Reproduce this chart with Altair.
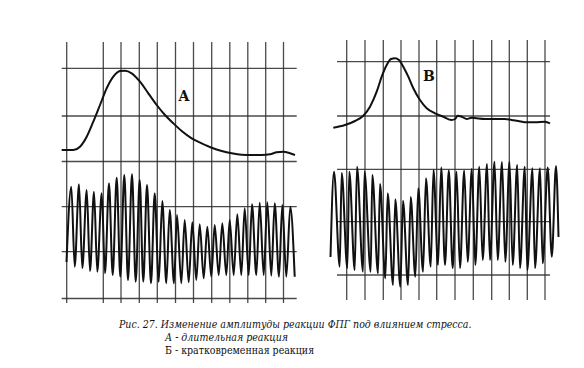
import altair as alt
import pandas as pd

# ---- grid (page coordinates) ----
left_grid_x = [66.7, 103.3, 121, 139.3, 157.3, 175.5, 193.5, 211.7, 229.8, 247.8, 265.7, 283.5]
left_grid_y = [68.3, 116, 161.5, 206.7, 251.7, 298.5]
right_grid_x = [346.7, 365, 383.3, 401, 419, 436.7, 455, 473.3, 491.7, 509.3, 527.3, 545]
right_grid_y = [61.7, 116, 169.3, 221.7, 275]
left_v_span = [42, 303]
left_h_span = [61.7, 296.7]
right_v_span = [40, 300]
right_h_span = [337, 550]

# ---- slow curves (upper traces) ----
left_curve_x = [61.7, 73.3, 80, 86.7, 93.3, 100, 106.7, 113.3, 120, 125, 131.7, 140, 148.3, 156.7, 165,
                173.3, 181.7, 191.7, 201.7, 211.7, 221.7, 231.7, 241.7, 251.7, 261.7, 270, 276.7, 283.3, 290, 295]
left_curve_y = [150, 150, 146.7, 136.7, 121.7, 105, 88.3, 76.7, 71, 70.7, 73.3, 81.7, 93.3, 105, 115,
                123.3, 131, 138.3, 143.3, 147.7, 151, 153.3, 154.7, 155, 155, 154.3, 152.3, 151.7, 153.3, 155]
right_curve_x = [333.3, 345, 355, 363.3, 370, 376.7, 381.7, 386.7, 391, 395, 399, 403.3, 408.3, 413.3, 420,
                 426.7, 435, 443.3, 451.7, 455, 457.7, 461.7, 466.7, 471.7, 476.7, 485, 495, 505, 511.7,
                 518.3, 525, 535, 545, 550]
right_curve_y = [127.7, 125, 121, 115.7, 106.7, 91.7, 76.7, 65, 59, 58.3, 60, 66.7, 76.7, 88.3, 100,
                 108.3, 113.3, 116.7, 120, 119, 115.7, 116.7, 119, 117.7, 118.3, 119, 119, 119, 120,
                 121, 122.3, 122.3, 121.7, 123.3]

# ---- pulse oscillations (lower traces): peaks and troughs ----
left_start = (66.5, 262)
left_end = (294.7, 276.7)
left_peak_x = [71.3, 79, 86.7, 94, 101.7, 109, 116.7, 124.3, 132, 139.7, 147, 154.7, 162.3, 169.7, 177,
               184.7, 192.3, 199.7, 207.3, 214.7, 222.3, 229.7, 237.3, 244.7, 252, 259.7, 267.3, 274.7, 282.3, 290.3]
left_peak_y = [186.7, 184.3, 190, 191.7, 193.3, 183.3, 177.7, 175, 174.3, 180, 185, 193.3, 201, 210, 215,
               220, 222.3, 224.3, 226.7, 225, 223.3, 220, 214.3, 208.3, 204.3, 202.7, 202.3, 203.3, 205, 206.7]
left_trough_x = [74.7, 82.3, 90, 97.3, 105, 112.7, 120.3, 128, 135.7, 143.3, 151, 158.7, 166.3, 174,
                 181.3, 188.7, 196.3, 203.7, 211.3, 218.7, 226.3, 233.7, 241.3, 248.7, 256.3, 263.7, 271.3, 279, 286.3]
left_trough_y = [266.7, 268.3, 271, 271.7, 273.3, 275, 276.7, 280, 281.7, 281.7, 283.3, 281.7, 283.3, 283.3,
                 283.3, 282.3, 280, 278.3, 276.7, 275, 275, 275, 275, 275, 275, 275, 275.7, 276.7, 276.7]

right_start = (330.5, 257)
right_end = (558.5, 237)
right_peak_x = [334, 341.7, 349.3, 357, 364.5, 372.3, 380, 387.7, 395.3, 403, 410.7, 418.3, 426, 433.5, 441.2,
                448.8, 456.5, 464.2, 471.8, 479.3, 487, 494.5, 502, 509.5, 517.2, 524.8, 532.5, 540, 547.7, 556]
right_peak_y = [171.7, 173, 171.7, 166.7, 171.7, 175, 184, 193.3, 199.3, 200.7, 197, 188.3, 178.3, 170, 167.5,
                170.5, 171.7, 170.5, 169, 166.7, 164, 161.7, 162, 161.7, 165, 166.7, 168.3, 168.3, 167.5, 166]
right_trough_x = [339.7, 347.3, 354.7, 363, 370.7, 378, 385.3, 393, 400.3, 408, 415.3, 423, 430.7, 438,
                  445, 452.7, 460, 467.7, 475.3, 482.7, 490, 497.7, 505.3, 512.7, 520, 527.3, 535, 542.7, 551.8]
right_trough_y = [266.7, 268.3, 270, 271.7, 271.7, 273.3, 278.3, 285, 286.7, 285, 276.7, 271.7, 266.7, 265,
                  265, 268.3, 268.3, 261.7, 265, 260, 260, 260, 261.7, 265, 268.3, 270, 268.3, 263.3, 256.7]

# ---- text ----
panel_labels = ["A", "B"]
panel_label_x = [184, 429]
panel_label_y = [97, 77]
caption_lines = [
    "Рис. 27. Изменение амплитуды реакции ФПГ под влиянием стресса.",
    "А - длительная реакция",
    "Б - кратковременная реакция",
]
caption_x = [119, 165, 165]
caption_y = [325, 338, 351]
caption_style = ["italic", "italic", "normal"]

SERIF = "DejaVu Serif"
CAPTION_FONT = "DejaVu Serif Condensed, DejaVu Serif"


def wave(start, px, py, tx, ty, end):
    pts = [start]
    for i in range(len(px)):
        pts.append((px[i], py[i]))
        if i < len(tx):
            pts.append((tx[i], ty[i]))
    pts.append(end)
    return pd.DataFrame(pts, columns=["x", "y"])


X = alt.Scale(domain=[8, 576], nice=False, zero=False)
Y = alt.Scale(domain=[8, 360], nice=False, zero=False, reverse=True)

vrules = pd.DataFrame(
    [{"x": x, "y": left_v_span[0], "y2": left_v_span[1]} for x in left_grid_x]
    + [{"x": x, "y": right_v_span[0], "y2": right_v_span[1]} for x in right_grid_x]
)
hrules = pd.DataFrame(
    [{"y": y, "x": left_h_span[0], "x2": left_h_span[1]} for y in left_grid_y]
    + [{"y": y, "x": right_h_span[0], "x2": right_h_span[1]} for y in right_grid_y]
)

grid_color = "#2a2a2a"
v_layer = alt.Chart(vrules).mark_rule(color=grid_color, strokeWidth=1.3, opacity=0.85).encode(
    x=alt.X("x:Q", scale=X, axis=None), y=alt.Y("y:Q", scale=Y, axis=None), y2="y2:Q")
h_layer = alt.Chart(hrules).mark_rule(color=grid_color, strokeWidth=1.3, opacity=0.85).encode(
    x=alt.X("x:Q", scale=X, axis=None), x2="x2:Q", y=alt.Y("y:Q", scale=Y, axis=None))


def line_layer(df, width, interp):
    return alt.Chart(df).mark_line(color="#111111", strokeWidth=width, interpolate=interp).encode(
        x=alt.X("x:Q", scale=X, axis=None), y=alt.Y("y:Q", scale=Y, axis=None))


lc = line_layer(pd.DataFrame({"x": left_curve_x, "y": left_curve_y}), 2, "monotone")
rc = line_layer(pd.DataFrame({"x": right_curve_x, "y": right_curve_y}), 2, "monotone")
lw = line_layer(wave(left_start, left_peak_x, left_peak_y, left_trough_x, left_trough_y, left_end), 2, "monotone")
rw = line_layer(wave(right_start, right_peak_x, right_peak_y, right_trough_x, right_trough_y, right_end), 2, "monotone")

labels = alt.Chart(pd.DataFrame({"t": panel_labels, "x": panel_label_x, "y": panel_label_y})).mark_text(
    font=SERIF, fontWeight="bold", fontSize=14, align="center", baseline="middle", color="#111111"
).encode(x=alt.X("x:Q", scale=X, axis=None), y=alt.Y("y:Q", scale=Y, axis=None), text="t:N")

cap_df = pd.DataFrame({"t": caption_lines, "x": caption_x, "y": caption_y, "s": caption_style})
cap_italic = alt.Chart(cap_df[cap_df.s == "italic"]).mark_text(
    font=CAPTION_FONT, fontStyle="italic", fontSize=10.5, align="left", baseline="middle", color="#111111"
).encode(x=alt.X("x:Q", scale=X, axis=None), y=alt.Y("y:Q", scale=Y, axis=None), text="t:N")
cap_normal = alt.Chart(cap_df[cap_df.s == "normal"]).mark_text(
    font=CAPTION_FONT, fontSize=10.5, align="left", baseline="middle", color="#111111"
).encode(x=alt.X("x:Q", scale=X, axis=None), y=alt.Y("y:Q", scale=Y, axis=None), text="t:N")

chart = alt.layer(v_layer, h_layer, lc, rc, lw, rw, labels, cap_italic, cap_normal).properties(
    width=568, height=352, padding=0, autosize=alt.AutoSizeParams(type="none"), background="white"
).configure_view(stroke=None)

chart.save("out.html", embed_options={"renderer": "svg", "actions": False})
